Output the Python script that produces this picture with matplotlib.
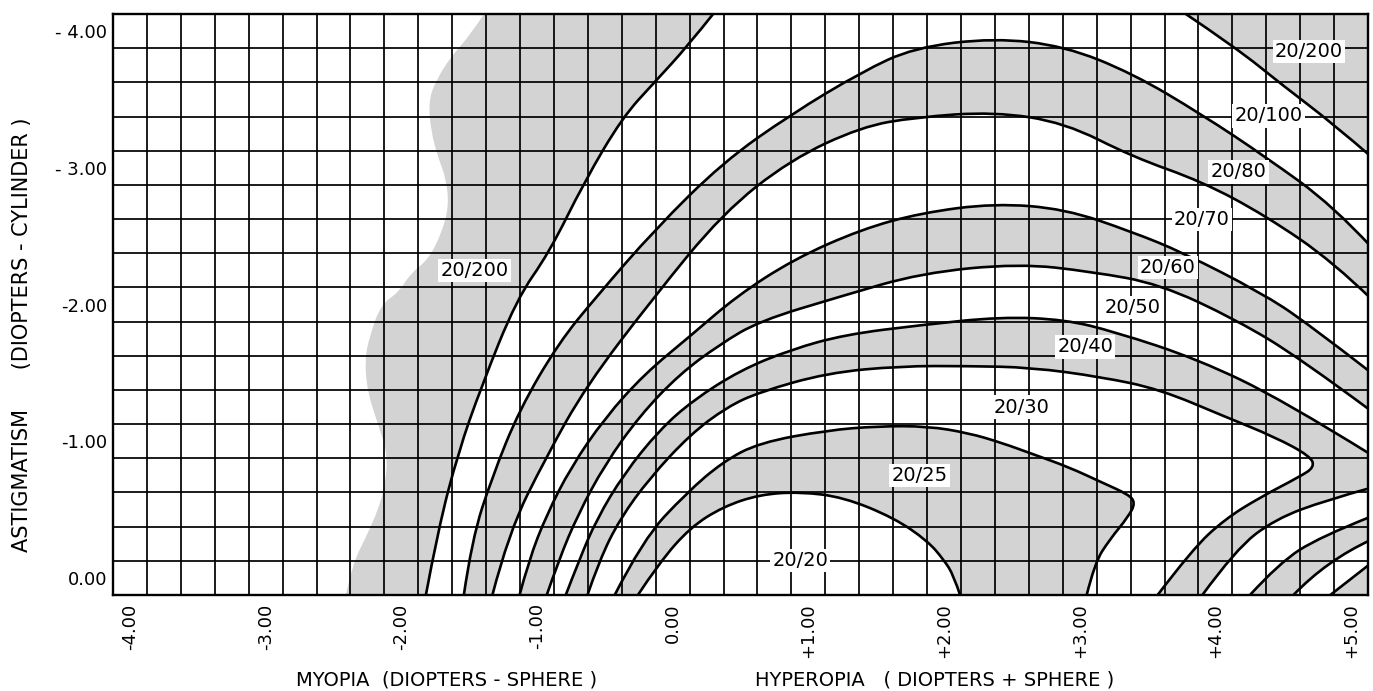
import numpy as np
import matplotlib.pyplot as plt
from matplotlib.path import Path
from matplotlib.patches import PathPatch

plt.rcParams['font.family'] = ['DejaVu Sans']

# --- contour lines (diopters sphere, diopters cylinder) ---
# 20/20 | 20/25
c1_x = [-0.26, -0.10, 0.13, 0.37, 0.64, 0.94, 1.26, 1.63, 1.88, 2.00, 2.07, 2.12]
c1_y = [0.13, -0.11, -0.37, -0.52, -0.61, -0.63, -0.59, -0.44, -0.27, -0.13, -0.02, 0.13]
# 20/25 | 20/30
c2_x = [-0.43, -0.22, 0.10, 0.37, 0.64, 1.14, 1.51, 1.88, 2.18, 2.42, 2.67, 2.92,
        3.16, 3.36, 3.41, 3.36, 3.22, 3.11, 3.05]
c2_y = [0.13, -0.28, -0.62, -0.85, -0.99, -1.08, -1.11, -1.11, -1.06, -0.99, -0.90, -0.81,
        -0.70, -0.61, -0.55, -0.45, -0.28, -0.11, 0.13]
# 20/30 | 20/40
c3_x = [-0.63, -0.54, -0.39, -0.17, 0.13, 0.40, 0.64, 1.14, 1.68, 2.18, 2.64, 3.16,
        3.59, 4.07, 4.44, 4.70, 4.73, 4.62, 4.33, 4.07, 3.83, 3.57]
c3_y = [0.13, -0.13, -0.43, -0.73, -1.05, -1.25, -1.36, -1.50, -1.55, -1.55, -1.54, -1.47,
        -1.38, -1.18, -1.03, -0.89, -0.81, -0.74, -0.59, -0.43, -0.21, 0.13]
# 20/40 | 20/50 (upper branch, lower branch)
c4u_x = [-0.79, -0.69, -0.56, -0.36, -0.10, 0.15, 0.50, 0.87, 1.27, 1.83, 2.42, 2.89,
         3.26, 3.87, 4.50, 5.15]
c4u_y = [0.13, -0.13, -0.43, -0.76, -1.08, -1.30, -1.52, -1.67, -1.78, -1.85, -1.91, -1.89,
         -1.80, -1.60, -1.30, -0.90]
c4l_x = [5.15, 4.82, 4.44, 4.15, 3.90]
c4l_y = [-0.66, -0.57, -0.43, -0.21, 0.13]
# 20/50 | 20/60
c5u_x = [-0.93, -0.84, -0.70, -0.50, -0.24, 0.05, 0.35, 0.64, 1.24, 1.83, 2.55, 3.09,
         3.59, 4.15, 4.62, 5.15]
c5u_y = [0.13, -0.13, -0.46, -0.83, -1.19, -1.49, -1.71, -1.88, -2.06, -2.23, -2.30, -2.24,
         -2.15, -1.89, -1.61, -1.22]
c5l_x = [5.15, 4.77, 4.47, 4.25]
c5l_y = [-0.45, -0.30, -0.11, 0.13]
# 20/60 | 20/70
c6u_x = [-1.13, -1.06, -0.93, -0.75, -0.50, -0.21, 0.13, 0.47, 0.89, 1.39, 1.83, 2.37,
         2.89, 3.39, 3.76, 4.33, 4.67, 5.15]
c6u_y = [0.13, -0.13, -0.46, -0.81, -1.17, -1.49, -1.77, -2.06, -2.33, -2.55, -2.67, -2.74,
         -2.70, -2.53, -2.38, -2.09, -1.87, -1.50]
c6l_x = [5.15, 4.82, 4.57]
c6l_y = [-0.28, -0.13, 0.13]
# 20/70 | 20/80
c7u_x = [-1.33, -1.21, -0.93, -0.64, -0.15, 0.37, 0.87, 1.39, 1.79, 2.37, 2.89, 3.39,
         3.90, 4.37, 4.87, 5.15]
c7u_y = [0.13, -0.33, -0.89, -1.40, -2.04, -2.67, -3.06, -3.30, -3.37, -3.41, -3.33, -3.08,
         -2.90, -2.65, -2.31, -2.04]
c7l_x = [5.15, 4.84]
c7l_y = [-0.11, 0.13]
# 20/80 | 20/100
c8_x = [-1.54, -1.48, -1.33, -1.13, -0.84, -0.56, -0.13, 0.37, 0.87, 1.39, 1.78, 2.37,
        2.89, 3.39, 3.90, 4.37, 4.87, 5.15]
c8_y = [0.13, -0.28, -0.74, -1.23, -1.72, -2.06, -2.55, -3.04, -3.39, -3.70, -3.88, -3.95,
        -3.89, -3.69, -3.39, -3.08, -2.72, -2.42]
# 20/100 | 20/200, left and right
c9l_x = [-1.82, -1.73, -1.58, -1.41, -1.15, -0.91, -0.65, -0.37, -0.13, 0.11, 0.31]
c9l_y = [0.13, -0.35, -0.92, -1.40, -2.04, -2.38, -2.90, -3.37, -3.63, -3.89, -4.14]
c9r_x = [3.76, 4.15, 4.50, 4.87, 5.15]
c9r_y = [-4.14, -3.88, -3.60, -3.32, -3.08]
# outer edge of the shaded 20/200 zone on the myopia side
edge_x = [-1.38, -1.50, -1.63, -1.75, -1.80, -1.78, -1.73, -1.67, -1.65, -1.70, -1.80, -1.93,
          -2.02, -2.15, -2.23, -2.27, -2.25, -2.17, -2.10, -2.12, -2.17, -2.26, -2.36, -2.41]
edge_y = [-4.14, -3.96, -3.82, -3.63, -3.48, -3.26, -3.08, -2.92, -2.72, -2.53, -2.33, -2.23,
          -2.09, -2.00, -1.78, -1.60, -1.36, -1.12, -0.90, -0.68, -0.50, -0.30, -0.10, 0.13]

# acuity labels
label_text = ['20/20', '20/25', '20/30', '20/40', '20/50', '20/60', '20/70', '20/80',
              '20/100', '20/200', '20/200']
label_x = [0.94, 1.82, 2.57, 3.04, 3.39, 3.65, 3.90, 4.17, 4.39, 4.69, -1.46]
label_y = [-0.13, -0.75, -1.25, -1.69, -1.98, -2.27, -2.62, -2.97, -3.38, -3.85, -2.25]

xtick_vals = [-4, -3, -2, -1, 0, 1, 2, 3, 4, 5]
xtick_text = ['-4.00', '-3.00', '-2.00', '-1.00', '0.00', '+1.00', '+2.00', '+3.00',
              '+4.00', '+5.00']
ytick_vals = [-4, -3, -2, -1, 0]
ytick_text = ['- 4.00', '- 3.00', '-2.00', '-1.00', '0.00']

SHADE = '#d3d3d3'


def smooth_parts(xs, ys):
    # quadratic bezier through the read points (library path smoothing)
    p = np.column_stack([xs, ys]).astype(float)
    verts = [p[0]]
    codes = [Path.MOVETO]
    if len(p) == 2:
        verts.append(p[1])
        codes.append(Path.LINETO)
    elif len(p) > 2:
        for i in range(1, len(p) - 1):
            end = p[-1] if i == len(p) - 2 else (p[i] + p[i + 1]) / 2
            verts += [p[i], end]
            codes += [Path.CURVE3, Path.CURVE3]
    return verts, codes


def band_path(parts):
    verts, codes = [], []
    for k, (xs, ys) in enumerate(parts):
        v, c = smooth_parts(xs, ys)
        if k > 0:
            c[0] = Path.LINETO
        verts += v
        codes += c
    verts.append(verts[0])
    codes.append(Path.CLOSEPOLY)
    return Path(verts, codes)


def rev(xs, ys):
    return xs[::-1], ys[::-1]


fig = plt.figure(figsize=(13.73, 6.91), dpi=100)
ax = fig.add_axes([0.0823, 0.1389, 0.9141, 0.8408])
ax.set_xlim(-4.125, 5.125)
ax.set_ylim(0.125, -4.125)

# shaded bands
bands = [
    [(c2_x, c2_y), rev(c1_x, c1_y)],
    [(c4u_x, c4u_y), (c4l_x, c4l_y), rev(c3_x, c3_y)],
    [(c5u_x, c5u_y), (c5l_x, c5l_y), rev(c6l_x, c6l_y), rev(c6u_x, c6u_y)],
    [(c8_x, c8_y), ([5.15], [0.13]), rev(c7l_x, c7l_y), rev(c7u_x, c7u_y)],
    [(edge_x, edge_y), (c9l_x, c9l_y)],
    [(c9r_x, c9r_y), ([5.15], [-4.14])],
]
for parts in bands:
    ax.add_patch(PathPatch(band_path(parts), fc=SHADE, ec='none', lw=0, zorder=0.5))

# graph paper grid, one cell per 0.25 diopter
grid_x = np.arange(-4.125, 5.13, 0.25)
grid_y = np.arange(-4.125, 0.13, 0.25)
ax.vlines(grid_x, 0.125, -4.125, color='black', lw=1.25, zorder=1)
ax.hlines(grid_y, -4.125, 5.125, color='black', lw=1.25, zorder=1)

curves = [(c1_x, c1_y), (c2_x, c2_y), (c3_x, c3_y), (c4u_x, c4u_y), (c4l_x, c4l_y),
          (c5u_x, c5u_y), (c5l_x, c5l_y), (c6u_x, c6u_y), (c6l_x, c6l_y),
          (c7u_x, c7u_y), (c7l_x, c7l_y), (c8_x, c8_y), (c9l_x, c9l_y), (c9r_x, c9r_y)]
for xs, ys in curves:
    v, c = smooth_parts(xs, ys)
    ax.add_patch(PathPatch(Path(v, c), fill=False, ec='black', lw=1.9,
                           joinstyle='round', capstyle='round', zorder=3))

for t, x, y in zip(label_text, label_x, label_y):
    ax.text(x, y, t, ha='center', va='center', fontsize=14, zorder=4,
            bbox=dict(fc='white', ec='none', pad=1.5))

ax.set_xticks(xtick_vals)
ax.set_xticklabels(xtick_text, rotation=90, fontsize=13)
ax.set_yticks(ytick_vals)
ax.set_yticklabels(ytick_text, fontsize=13)
ax.tick_params(which='both', length=0)
ax.tick_params(axis='x', pad=6)
ax.tick_params(axis='y', pad=4)
for s in ax.spines.values():
    s.set_linewidth(1.7)
    s.set_zorder(5)

fig.text(0.016, 0.515, 'ASTIGMATISM      (DIOPTERS - CYLINDER )', rotation=90,
         ha='center', va='center', fontsize=15)
fig.text(0.325, 0.016, 'MYOPIA  (DIOPTERS - SPHERE )', ha='center', va='center',
         fontsize=14)
fig.text(0.681, 0.016, 'HYPEROPIA   ( DIOPTERS + SPHERE )', ha='center', va='center',
         fontsize=14)

fig.savefig('out.png', dpi=100)
